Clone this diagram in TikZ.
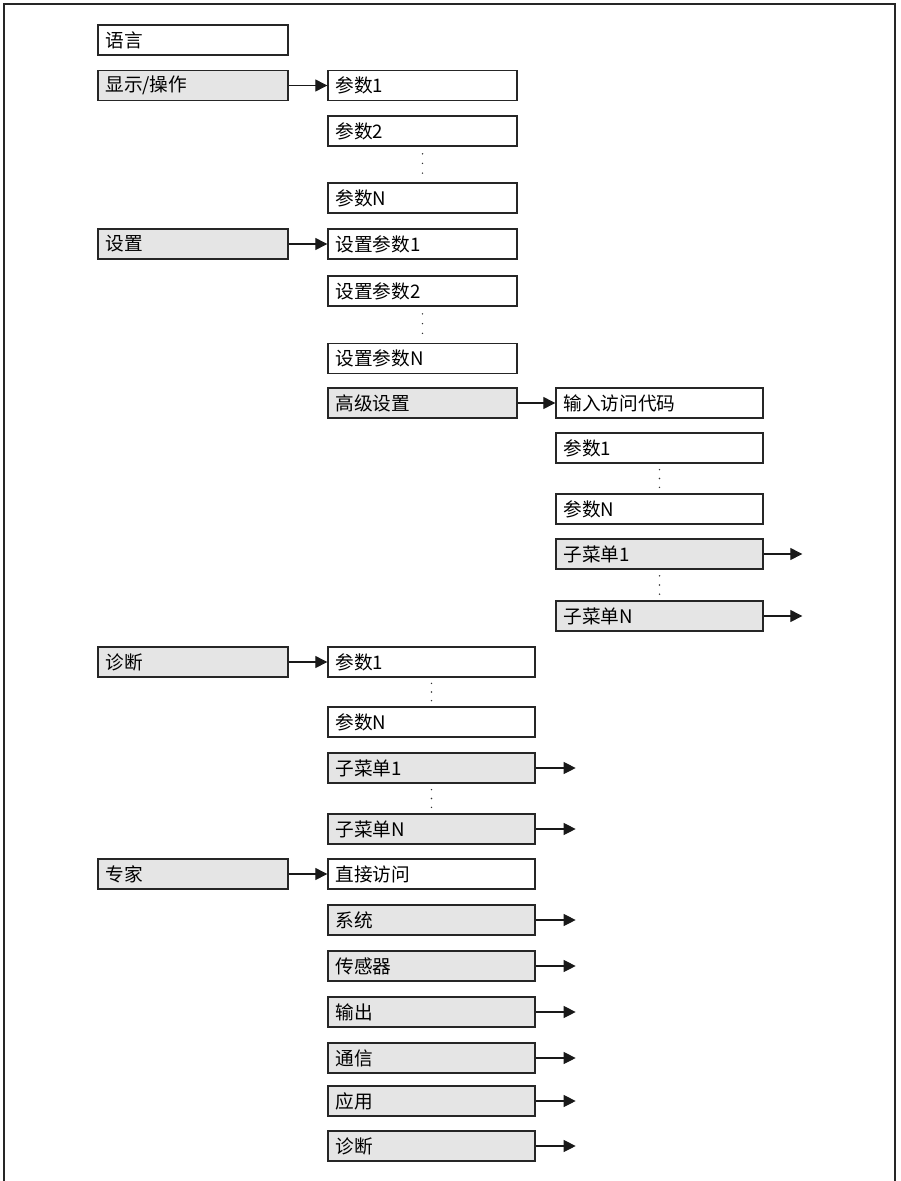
\documentclass[tikz,border=0pt]{standalone}
\usepackage{fontspec}
\setmainfont{Noto Sans CJK SC}
\usepackage{tikz}
\usetikzlibrary{arrows.meta,positioning,calc}
\tikzset{
  >={Triangle[length=9pt, width=9pt]},
  box/.style={draw=black!85, line width=1pt, fill=white, align=left, inner xsep=5.5pt,
    minimum height=22.5pt, font=\fontsize{14pt}{15pt}\selectfont},
  item/.style={box, text width=#1},
  menu/.style={box, fill=black!10, text width=#1},
  flow/.style={->, line width=0.8pt, draw=black!90},
  frame/.style={draw=black!85, line width=1pt},
}
\begin{document}
\begin{tikzpicture}[x=0.75pt, y=-0.75pt]
  \useasboundingbox (0,0) rectangle (900,1181);
  \draw[frame] (4,1181) -- (4,4) -- (895,4) -- (895,1181);

  \node[item=131.5pt] (lang)   at (193,40)  {语言};
  \node[menu=131.5pt] (disp)   at (193,85.5) {显示/操作};
  \node[menu=131.5pt] (setup)  at (193,244) {设置};
  \node[menu=131.5pt] (diag)   at (193,662) {诊断};
  \node[menu=131.5pt] (expert) at (193,874) {专家};

  \node[item=130.75pt] (d1)  at (422.5,85.5) {参数1};
  \node[item=130.75pt] (d2)  at (422.5,131)  {参数2};
  \node[item=130.75pt] (dn)  at (422.5,198)  {参数N};
  \node[item=130.75pt] (s1)  at (422.5,244)  {设置参数1};
  \node[item=130.75pt] (s2)  at (422.5,291)  {设置参数2};
  \node[item=130.75pt] (sn)  at (422.5,358.5) {设置参数N};
  \node[menu=130.75pt] (adv) at (422.5,403)  {高级设置};

  \node[item=144.25pt] (code) at (659.5,403) {输入访问代码};
  \node[item=144.25pt] (a1)   at (659.5,448) {参数1};
  \node[item=144.25pt] (an)   at (659.5,509) {参数N};
  \node[menu=144.25pt] (am1)  at (659.5,554) {子菜单1};
  \node[menu=144.25pt] (amn)  at (659.5,616) {子菜单N};

  \node[item=144.25pt] (g1)   at (431.5,662) {参数1};
  \node[item=144.25pt] (gn)   at (431.5,722) {参数N};
  \node[menu=144.25pt] (gm1)  at (431.5,768) {子菜单1};
  \node[menu=144.25pt] (gmn)  at (431.5,829) {子菜单N};
  \node[item=144.25pt] (dir)  at (431.5,874) {直接访问};
  \node[menu=144.25pt] (sys)  at (431.5,920) {系统};
  \node[menu=144.25pt] (sens) at (431.5,966) {传感器};
  \node[menu=144.25pt] (outp) at (431.5,1012) {输出};
  \node[menu=144.25pt] (comm) at (431.5,1058) {通信};
  \node[menu=144.25pt] (appl) at (431.5,1101) {应用};
  \node[menu=144.25pt] (gdg)  at (431.5,1146) {诊断};

  \draw[flow] (disp) -- (d1);
  \draw[flow] (setup) -- (s1);
  \draw[flow] (adv) -- (code);
  \draw[flow] (diag) -- (g1);
  \draw[flow] (expert) -- (dir);

  \coordinate[right=29pt of am1] (am1o);
  \coordinate[right=29pt of amn] (amno);
  \coordinate[right=30pt of gm1] (gm1o);
  \coordinate[right=30pt of gmn] (gmno);
  \coordinate[right=30pt of sys] (syso);
  \coordinate[right=30pt of sens] (senso);
  \coordinate[right=30pt of outp] (outpo);
  \coordinate[right=30pt of comm] (commo);
  \coordinate[right=30pt of appl] (applo);
  \coordinate[right=30pt of gdg] (gdgo);
  \draw[flow] (am1) -- (am1o);
  \draw[flow] (amn) -- (amno);
  \draw[flow] (gm1) -- (gm1o);
  \draw[flow] (gmn) -- (gmno);
  \draw[flow] (sys) -- (syso);
  \draw[flow] (sens) -- (senso);
  \draw[flow] (outp) -- (outpo);
  \draw[flow] (comm) -- (commo);
  \draw[flow] (appl) -- (applo);
  \draw[flow] (gdg) -- (gdgo);

  \fill[black!80] ($(d2.south)!0.2!(dn.north)$) circle (0.6pt)
                  ($(d2.south)!0.47!(dn.north)$) circle (0.6pt)
                  ($(d2.south)!0.74!(dn.north)$) circle (0.6pt);
  \fill[black!80] ($(s2.south)!0.2!(sn.north)$) circle (0.6pt)
                  ($(s2.south)!0.47!(sn.north)$) circle (0.6pt)
                  ($(s2.south)!0.74!(sn.north)$) circle (0.6pt);
  \fill[black!80] ($(a1.south)!0.2!(an.north)$) circle (0.6pt)
                  ($(a1.south)!0.5!(an.north)$) circle (0.6pt)
                  ($(a1.south)!0.8!(an.north)$) circle (0.6pt);
  \fill[black!80] ($(am1.south)!0.2!(amn.north)$) circle (0.6pt)
                  ($(am1.south)!0.5!(amn.north)$) circle (0.6pt)
                  ($(am1.south)!0.8!(amn.north)$) circle (0.6pt);
  \fill[black!80] ($(g1.south)!0.2!(gn.north)$) circle (0.6pt)
                  ($(g1.south)!0.5!(gn.north)$) circle (0.6pt)
                  ($(g1.south)!0.8!(gn.north)$) circle (0.6pt);
  \fill[black!80] ($(gm1.south)!0.2!(gmn.north)$) circle (0.6pt)
                  ($(gm1.south)!0.5!(gmn.north)$) circle (0.6pt)
                  ($(gm1.south)!0.8!(gmn.north)$) circle (0.6pt);
\end{tikzpicture}
\end{document}
